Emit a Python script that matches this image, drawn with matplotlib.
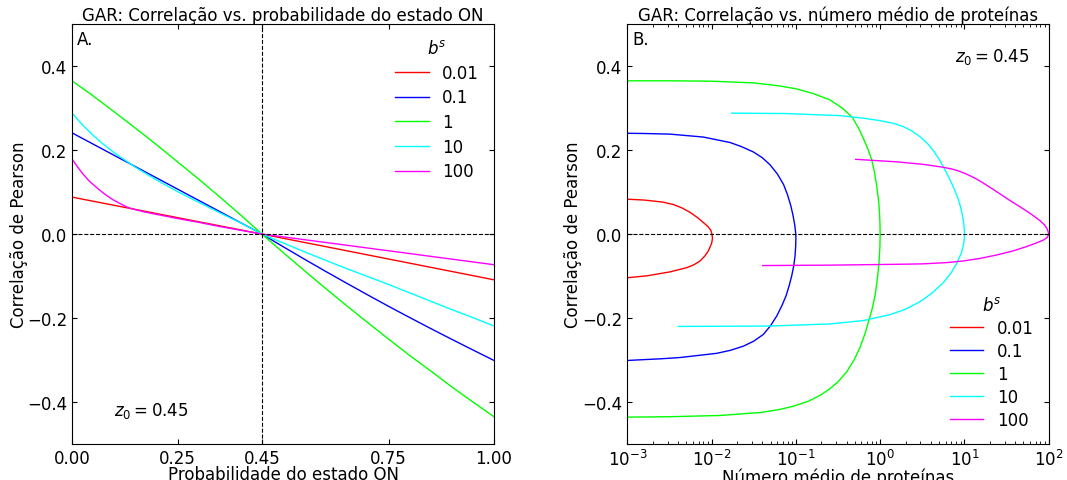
import numpy as np
import matplotlib
matplotlib.use("Agg")
import matplotlib.pyplot as plt

# ── Data ──────────────────────────────────────────────────────────────────────
B_LABELS = ["0.01", "0.1", "1", "10", "100"]
COLOURS  = ["#ff0000", "#0000ff", "#00ff00", "#00ffff", "#ff00ff"]

# Panel A: correlation vs probability of ON state
p_on = [0, 0.025, 0.05, 0.075, 0.1, 0.15, 0.2, 0.25, 0.3, 0.35, 0.4, 0.45,
        0.5, 0.55, 0.6, 0.65, 0.7, 0.75, 0.8, 0.85, 0.9, 0.95, 1.0]
corr_a_001 = [0.088, 0.0831, 0.0782, 0.0733, 0.0684, 0.0587, 0.0489, 0.0391, 0.0293, 0.0196, 0.0098, 0,
              -0.0099, -0.0198, -0.0297, -0.0396, -0.0495, -0.0594, -0.0693, -0.0792, -0.0891, -0.099, -0.109]
corr_a_01  = [0.241, 0.2276, 0.2142, 0.2008, 0.1874, 0.1607, 0.1339, 0.1071, 0.0803, 0.0536, 0.0268, 0,
              -0.0299, -0.0594, -0.0883, -0.1166, -0.1445, -0.172, -0.1987, -0.225, -0.2507, -0.276, -0.301]
corr_a_1   = [0.365, 0.347, 0.329, 0.310, 0.291, 0.2525, 0.213, 0.172, 0.131, 0.0885, 0.045, 0,
              -0.0437, -0.0866, -0.1287, -0.170, -0.2103, -0.250, -0.289, -0.326, -0.364, -0.400, -0.435]
corr_a_10  = [0.288, 0.2597, 0.235, 0.2132, 0.1936, 0.1592, 0.1291, 0.1011, 0.0757, 0.0507, 0.0264, 0,
              -0.021, -0.042, -0.062, -0.082, -0.101, -0.120, -0.140, -0.160, -0.180, -0.199, -0.219]
# b = 100 bends sharply near p = 0, so it is read on its own grid
p_on_100   = [0, 0.013, 0.026, 0.04, 0.058, 0.075, 0.089, 0.1, 0.115, 0.132, 0.15, 0.175, 0.2, 0.25,
              0.3, 0.35, 0.4, 0.45, 0.5, 0.55, 0.6, 0.65, 0.7, 0.75, 0.8, 0.85, 0.9, 0.95, 1.0]
corr_a_100 = [0.179, 0.160, 0.143, 0.127, 0.111, 0.097, 0.087, 0.080, 0.072, 0.0635, 0.058, 0.052, 0.047, 0.037,
              0.028, 0.018, 0.009, 0, -0.0066, -0.0133, -0.0199, -0.0265, -0.0332, -0.0398, -0.0464,
              -0.0531, -0.0597, -0.0664, -0.073]

# Panel B: correlation vs mean protein number (traced top branch -> bottom branch)
mean_b_001 = [0.001, 0.00158, 0.00267, 0.00355, 0.00447, 0.00562, 0.00692, 0.00813, 0.00912, 0.00977,
              0.0101, 0.01023, 0.01, 0.00914, 0.00832, 0.0073, 0.00617, 0.00507, 0.00321, 0.0017, 0.001]
corr_b_001 = [0.083, 0.081, 0.076, 0.070, 0.062, 0.051, 0.038, 0.026, 0.017, 0.009,
              0.0, -0.010, -0.022, -0.040, -0.052, -0.064, -0.073, -0.080, -0.090, -0.0995, -0.104]

mean_b_01 = [0.001, 0.00158, 0.00321, 0.00798, 0.01656, 0.0224, 0.0313, 0.0398, 0.0493, 0.0603, 0.0714,
             0.0794, 0.0869, 0.0923, 0.0968, 0.0991, 0.1,
             0.0993, 0.0977, 0.0944, 0.0893, 0.0832, 0.0764, 0.0684, 0.0593, 0.0501, 0.0411, 0.0316,
             0.0238, 0.0166, 0.0115, 0.00422, 0.00251, 0.001]
corr_b_01 = [0.240, 0.2395, 0.238, 0.231, 0.218, 0.2085, 0.1955, 0.182, 0.165, 0.143, 0.118,
             0.094, 0.068, 0.045, 0.022, 0.005, -0.008,
             -0.030, -0.052, -0.075, -0.099, -0.123, -0.147, -0.170, -0.195, -0.218, -0.239, -0.255,
             -0.267, -0.277, -0.284, -0.294, -0.297, -0.301]

mean_b_1 = [0.001, 0.00316, 0.01, 0.0316, 0.0631, 0.1, 0.158, 0.251, 0.355, 0.468, 0.562, 0.631, 0.708,
            0.794, 0.851, 0.910, 0.951, 0.977, 0.993, 1.0,
            0.993, 0.970, 0.923, 0.869, 0.804, 0.743, 0.661, 0.577, 0.490, 0.401, 0.316, 0.251, 0.194,
            0.141, 0.0933, 0.0631, 0.0376, 0.0126, 0.00316, 0.001]
corr_b_1 = [0.365, 0.365, 0.364, 0.360, 0.353, 0.346, 0.335, 0.320, 0.300, 0.278, 0.250, 0.228, 0.205,
            0.177, 0.150, 0.115, 0.085, 0.060, 0.030, 0.0,
            -0.030, -0.068, -0.110, -0.147, -0.178, -0.203, -0.237, -0.270, -0.300, -0.328, -0.352,
            -0.369, -0.384, -0.398, -0.410, -0.418, -0.425, -0.432, -0.435, -0.436]

mean_b_10 = [0.0173, 0.0778, 0.334, 0.631, 1.0, 1.413, 1.884, 2.399, 2.972, 3.631, 4.276, 4.955, 5.610,
             6.310, 7.063, 7.762, 8.472, 9.078, 9.550, 9.886, 10.07,
             9.954, 9.705, 9.120, 8.091, 6.918, 5.610, 4.169, 2.972, 1.995, 1.309, 0.631, 0.254,
             0.0493, 0.00403]
corr_b_10 = [0.288, 0.287, 0.282, 0.276, 0.270, 0.264, 0.256, 0.245, 0.232, 0.216, 0.199, 0.180, 0.161,
             0.141, 0.121, 0.102, 0.0825, 0.062, 0.042, 0.020, 0.0,
             -0.012, -0.028, -0.047, -0.070, -0.093, -0.116, -0.140, -0.161, -0.179, -0.192, -0.206,
             -0.214, -0.219, -0.220]

mean_b_100 = [0.513, 1.570, 3.251, 5.610, 7.079, 8.318, 10.0, 11.64, 13.80, 16.60, 24.15, 34.67, 50.00,
              64.57, 78.89, 89.13, 95.50, 98.86, 100.0,
              96.61, 87.10, 71.94, 52.48, 38.02, 23.99, 15.31, 9.772, 6.166, 3.162, 1.570, 0.254, 0.0404]
corr_b_100 = [0.178, 0.172, 0.166, 0.159, 0.155, 0.151, 0.145, 0.139, 0.1315, 0.122, 0.101, 0.080, 0.060,
              0.045, 0.032, 0.022, 0.013, 0.005, 0.0,
              -0.008, -0.014, -0.021, -0.031, -0.040, -0.050, -0.058, -0.064, -0.068, -0.071, -0.072,
              -0.074, -0.075]

CURVES_A = [(p_on, corr_a_001), (p_on, corr_a_01), (p_on, corr_a_1), (p_on, corr_a_10),
            (p_on_100, corr_a_100)]
CURVES_B = [(mean_b_001, corr_b_001), (mean_b_01, corr_b_01), (mean_b_1, corr_b_1),
            (mean_b_10, corr_b_10), (mean_b_100, corr_b_100)]

Z0 = 0.45

plt.rcParams["font.size"] = 12
plt.rcParams["xtick.direction"] = "in"
plt.rcParams["ytick.direction"] = "in"
plt.rcParams["xtick.top"] = True
plt.rcParams["ytick.right"] = True

fig = plt.figure(figsize=(10.67, 4.81), dpi=100)
ax_a = fig.add_axes([0.0675, 0.0748, 0.3955, 0.873])
ax_b = fig.add_axes([0.5880, 0.0748, 0.3948, 0.873])

# ── Panel A ───────────────────────────────────────────────────────────────────
for (xs, ys), col, lab in zip(CURVES_A, COLOURS, B_LABELS):
    ax_a.plot(xs, ys, color=col, lw=1.0, label=lab)
ax_a.axhline(0, color="black", ls="--", lw=0.8)
ax_a.axvline(Z0, color="black", ls="--", lw=0.8)
ax_a.set_xlim(0, 1)
ax_a.set_ylim(-0.5, 0.5)
ax_a.set_xticks([0, 0.25, 0.45, 0.75, 1.0])
ax_a.set_xticklabels(["0.00", "0.25", "0.45", "0.75", "1.00"])
ax_a.set_yticks([-0.4, -0.2, 0, 0.2, 0.4])
ax_a.set_xlabel("Probabilidade do estado ON", labelpad=-1)
ax_a.set_ylabel("Correlação de Pearson", labelpad=-1)
ax_a.set_title("GAR: Correlação vs. probabilidade do estado ON", fontsize=12, pad=3)
ax_a.text(0.012, 0.985, "A.", transform=ax_a.transAxes, ha="left", va="top")
ax_a.text(0.1, -0.42, r"$z_0 = 0.45$", ha="left", va="center")
ax_a.legend(title=r"$b^s$", frameon=False, loc="upper right", labelspacing=0.4)

# ── Panel B ───────────────────────────────────────────────────────────────────
for (xs, ys), col, lab in zip(CURVES_B, COLOURS, B_LABELS):
    ax_b.plot(xs, ys, color=col, lw=1.0, label=lab)
ax_b.axhline(0, color="black", ls="--", lw=0.8)
ax_b.set_xscale("log")
ax_b.set_xlim(1e-3, 1e2)
ax_b.set_ylim(-0.5, 0.5)
ax_b.set_yticks([-0.4, -0.2, 0, 0.2, 0.4])
ax_b.tick_params(which="minor", direction="in", top=True)
ax_b.set_xlabel("Número médio de proteínas", labelpad=-1)
ax_b.set_ylabel("Correlação de Pearson", labelpad=0)
ax_b.set_title("GAR: Correlação vs. número médio de proteínas", fontsize=12, pad=3)
ax_b.text(0.012, 0.985, "B.", transform=ax_b.transAxes, ha="left", va="top")
ax_b.text(0.777, 0.924, r"$z_0 = 0.45$", transform=ax_b.transAxes, ha="left", va="center")
ax_b.legend(title=r"$b^s$", frameon=False, loc="lower right", labelspacing=0.3)

fig.savefig("out.png", dpi=100)
